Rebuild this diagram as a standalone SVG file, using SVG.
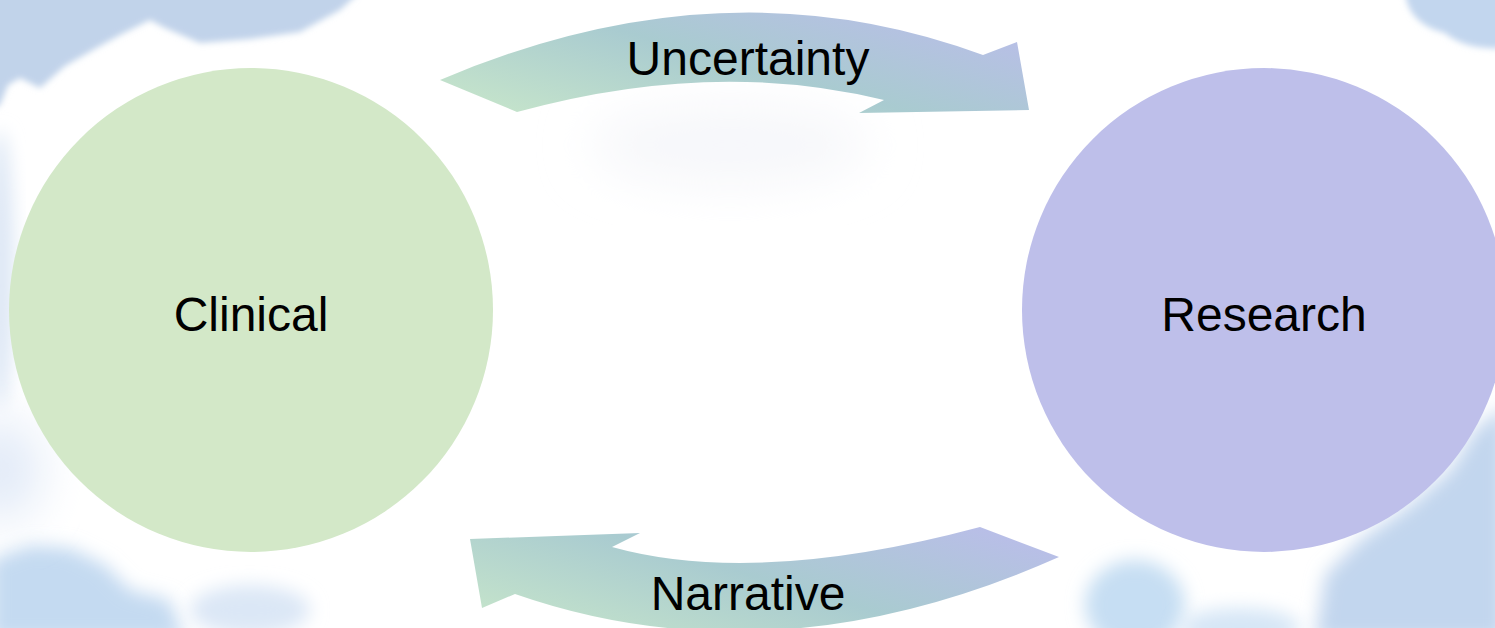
<svg xmlns="http://www.w3.org/2000/svg" width="1495" height="628" viewBox="0 0 1495 628">
  <style>
    .lbl { font-family: "Liberation Sans", Arial, sans-serif; font-size: 48px; fill: #000; text-anchor: middle; }
    .arrow { fill: url(#arrowGrad); }
    .sky { fill: #c2d6ee; }
  </style>
  <defs>
    <linearGradient id="arrowGrad" x1="0" y1="0.8" x2="1" y2="0.2">
      <stop offset="0" stop-color="#c4e3cb"/>
      <stop offset="0.5" stop-color="#a9cbd0"/>
      <stop offset="1" stop-color="#b9bee8"/>
    </linearGradient>
    <filter id="blur" x="-30%" y="-30%" width="160%" height="160%">
      <feGaussianBlur stdDeviation="3"/>
    </filter>
    <filter id="blurMid" x="-40%" y="-40%" width="180%" height="180%">
      <feGaussianBlur stdDeviation="9"/>
    </filter>
    <filter id="blurBig" x="-50%" y="-50%" width="200%" height="200%">
      <feGaussianBlur stdDeviation="25"/>
    </filter>
  </defs>

  <!-- sky background -->
  <g id="background">
    <rect x="0" y="0" width="1495" height="628" fill="#ffffff"/>
    <path class="sky" d="M-10,-10 L362,-10 L340,10 L300,32 L250,39 L200,43 L165,28 L150,20 L120,35 L100,46 L65,66 L40,88 L20,78 L8,85 L0,105 L-10,110 Z" fill="#c1d3ea" style="fill:#c1d3ea" filter="url(#blur)"/>
    <ellipse cx="0" cy="270" rx="14" ry="140" fill="#dde7f5" filter="url(#blurMid)"/>
    <path class="sky" d="M1405,-10 L1505,-10 L1505,48 C1478,50 1458,44 1445,33 C1425,28 1406,16 1405,-10 Z" filter="url(#blur)"/>
    <path class="sky" d="M1315,640 L1325,575 L1360,540 L1410,505 L1450,470 L1475,430 L1505,405 L1505,640 Z" filter="url(#blurMid)"/>
    <ellipse cx="1135" cy="605" rx="50" ry="45" fill="#c6def3" filter="url(#blurMid)"/>
    <ellipse cx="1240" cy="628" rx="60" ry="20" fill="#d6e6f6" filter="url(#blurMid)"/>
    <path d="M-10,640 L-10,560 L30,545 L70,548 L105,565 L130,590 L170,600 L185,640 Z" fill="#c4daf1" filter="url(#blurMid)"/>
    <ellipse cx="250" cy="610" rx="60" ry="25" fill="#dbe7f6" filter="url(#blurMid)"/>
    <ellipse cx="0" cy="470" rx="40" ry="50" fill="#e0e9f7" filter="url(#blurBig)"/>
    <ellipse cx="730" cy="145" rx="140" ry="40" fill="#f6f7fa" filter="url(#blurBig)"/>
  </g>

  <g id="connectors">
    <g id="edge-uncertainty">
      <path class="arrow" d="M440,80 Q724,-41 983,55 L1017,42 L1029,110 L859,113 L884,100 Q713,58 517,112 Z"/>
      <text class="lbl" x="748" y="75">Uncertainty</text>
    </g>
    <g id="edge-narrative">
      <path class="arrow" d="M980,527 L1059,557 Q773,684 515,594 L482,608 L470,539 L640,533 L612,547 Q756,587 980,527 Z"/>
      <text class="lbl" x="748" y="610">Narrative</text>
    </g>
  </g>

  <g id="node-clinical">
    <circle cx="251" cy="310" r="242" fill="#d3e8c8"/>
    <text class="lbl" x="251" y="331">Clinical</text>
  </g>

  <g id="node-research">
    <circle cx="1264" cy="310" r="242" fill="#bebfea"/>
    <text class="lbl" x="1264" y="331">Research</text>
  </g>
</svg>
